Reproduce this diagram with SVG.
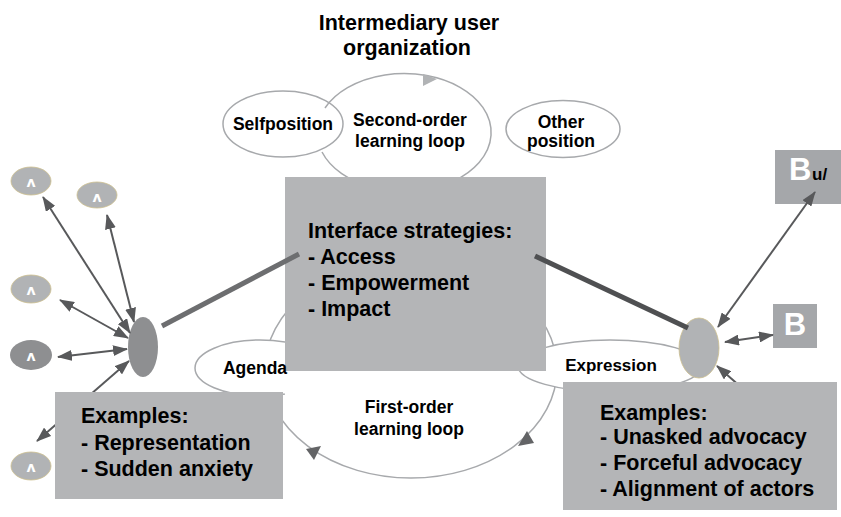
<svg xmlns="http://www.w3.org/2000/svg" width="841" height="517" viewBox="0 0 841 517">
<defs>
<style>
 text { font-family: "Liberation Sans", Arial, sans-serif; font-weight: bold; fill: #000; }
 .title { font-size: 21.5px; text-anchor: middle; }
 .lbl { font-size: 17.5px; text-anchor: middle; }
 .box { font-size: 21.5px; }
 .loop { fill: none; stroke: #a7a9ac; stroke-width: 1.5; }
 .bubble { fill: #fff; stroke: #a7a9ac; stroke-width: 1.5; }
 .panel { fill: #b4b5b7; }
 .actor { fill: #b1b3b5; stroke: #cdbf8e; stroke-width: 0.8; }
 .actor-dark { fill: #8e8f91; }
 .glyph { font-family: "DejaVu Sans", sans-serif; font-size: 14px; fill: #fff; text-anchor: middle; }
 .arrow { stroke: #58595b; stroke-width: 2; fill: none; marker-start: url(#ah); marker-end: url(#ah); }
 .single { marker-start: none; }
 .thick { stroke-width: 5; fill: none; }
 .sq { fill: #a5a7aa; }
 .bigB { fill: #fff; font-size: 31px; }
</style>
<marker id="ah" viewBox="0 0 15 11" refX="14" refY="5.5" markerWidth="15" markerHeight="11" markerUnits="userSpaceOnUse" orient="auto-start-reverse"><path d="M0,0 L15,5.5 L0,11 z" fill="#58595b"/></marker>
<clipPath id="leftOfPanel"><rect x="0" y="0" width="285" height="517"/></clipPath>
</defs>

<g id="title">
 <text class="title" x="409" y="30">Intermediary user</text>
 <text class="title" x="407" y="55">organization</text>
</g>

<g id="selfposition">
 <ellipse class="bubble" cx="283" cy="124" rx="60" ry="33"/>
 <text class="lbl" x="283" y="130">Selfposition</text>
</g>

<g id="other-position">
 <ellipse class="bubble" cx="563" cy="129" rx="57" ry="28.5"/>
 <text class="lbl" x="561" y="128">Other</text>
 <text class="lbl" x="561" y="147">position</text>
</g>

<g id="loops">
 <path class="loop" d="M325,108 A87,59 0 1 1 322,152"/>
 <polygon points="423,74 437,79 423,86" fill="#b1b3b5"/>
 <text class="lbl" x="410" y="126">Second-order</text>
 <text class="lbl" x="410" y="147">learning loop</text>
 <ellipse class="loop" cx="411" cy="369" rx="146" ry="109"/>
 <polygon points="518,446 527,431 534,443" fill="#636466"/>
 <polygon points="306,449 321,446 314,460" fill="#636466"/>
 <text class="lbl" x="409" y="413">First-order</text>
 <text class="lbl" x="409" y="435">learning loop</text>
</g>

<g id="expression">
 <ellipse class="bubble" cx="610" cy="366" rx="92" ry="26"/>
 <text class="lbl" x="611" y="371" style="font-size:17px">Expression</text>
</g>

<g id="interface-strategies">
 <rect class="panel" x="285" y="177" width="261" height="194"/>
 <text class="box" x="308" y="238">Interface strategies:</text>
 <text class="box" x="308" y="264">- Access</text>
 <text class="box" x="308" y="290">- Empowerment</text>
 <text class="box" x="308" y="316">- Impact</text>
</g>

<g id="agenda">
 <ellipse class="bubble" cx="260" cy="368" rx="65" ry="28" clip-path="url(#leftOfPanel)"/>
 <text class="lbl" x="255" y="374">Agenda</text>
</g>

<g id="left-actor">
 <ellipse class="actor-dark" cx="143" cy="347" rx="15" ry="30"/>
</g>
<g id="actor-1">
 <ellipse class="actor" cx="31" cy="181" rx="20" ry="14"/>
 <text class="glyph" x="31" y="187">ʌ</text>
</g>
<g id="actor-2">
 <ellipse class="actor" cx="97" cy="195" rx="20" ry="13"/>
 <text class="glyph" x="97" y="202">ʌ</text>
</g>
<g id="actor-3">
 <ellipse class="actor" cx="31" cy="289" rx="20" ry="14"/>
 <text class="glyph" x="31" y="295">ʌ</text>
</g>
<g id="actor-4">
 <ellipse class="actor-dark" cx="31" cy="355" rx="21" ry="15"/>
 <text class="glyph" x="31" y="361">ʌ</text>
</g>
<g id="actor-5">
 <ellipse class="actor" cx="31" cy="466" rx="20" ry="14"/>
 <text class="glyph" x="31" y="472">ʌ</text>
</g>

<g id="right-actor">
 <ellipse class="actor" cx="699" cy="348" rx="20" ry="30"/>
</g>
<g id="box-Bu">
 <rect class="sq" x="775" y="150" width="66" height="54"/>
 <text class="bigB" x="789" y="180">B</text>
 <text x="812" y="180" style="font-size:17px">u/</text>
</g>
<g id="box-B">
 <rect class="sq" x="773" y="304" width="44" height="44"/>
 <text class="bigB" x="795" y="335" style="text-anchor:middle">B</text>
</g>

<g id="connectors">
 <line class="arrow" x1="130" y1="333" x2="43" y2="197"/>
 <line class="arrow" x1="134" y1="322" x2="107" y2="215"/>
 <line class="arrow" x1="128" y1="338" x2="60" y2="300"/>
 <line class="arrow" x1="127" y1="349" x2="58" y2="357"/>
 <line class="arrow" x1="129" y1="361" x2="37" y2="441"/>
 <line class="arrow" x1="718" y1="327" x2="815" y2="192"/>
 <line class="arrow" x1="725" y1="342" x2="773" y2="335"/>
 <line class="arrow single" x1="750" y1="395" x2="717" y2="366"/>
 <line class="thick" x1="162" y1="326" x2="299" y2="254" stroke="#6d6e70"/>
 <line class="thick" x1="535" y1="256" x2="688" y2="328" stroke="#4f5052"/>
</g>

<g id="examples-left">
 <rect class="panel" x="55" y="392" width="228" height="107"/>
 <text class="box" x="81" y="423">Examples:</text>
 <text class="box" x="81" y="450">- Representation</text>
 <text class="box" x="81" y="476">- Sudden anxiety</text>
</g>

<g id="examples-right">
 <rect class="panel" x="563" y="382" width="274" height="128"/>
 <text class="box" x="600" y="420">Examples:</text>
 <text class="box" x="600" y="444">- Unasked advocacy</text>
 <text class="box" x="600" y="470">- Forceful advocacy</text>
 <text class="box" x="600" y="496">- Alignment of actors</text>
</g>
</svg>
